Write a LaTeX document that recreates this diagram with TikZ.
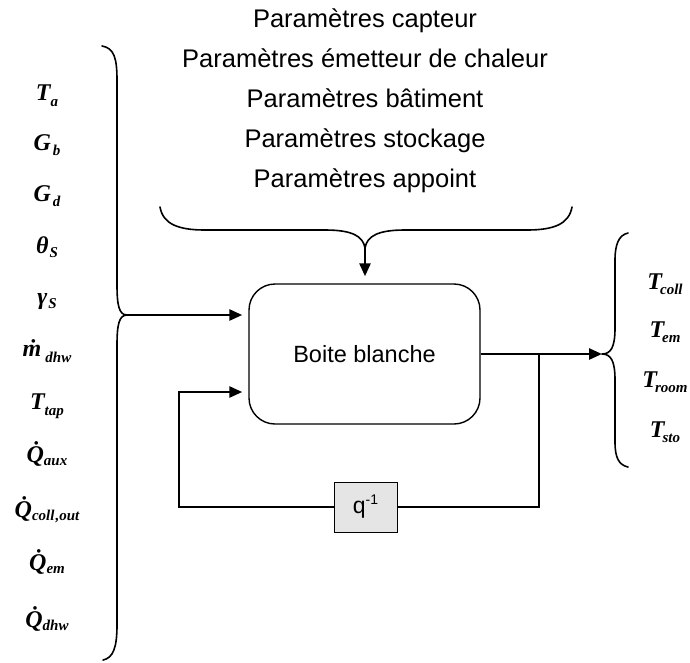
\documentclass[tikz,border=0pt]{standalone}
\usepackage{fontspec}
\setmainfont{Liberation Sans}
\newfontfamily\tnr{Liberation Serif}
\usetikzlibrary{arrows.meta}

% variable symbol: #1 = subscript drop, #2 = symbol, #3 = subscript
\newcommand\vsym[3][5pt]{{\tnr\bfseries\itshape\fontsize{24}{24}\selectfont
  #2\raisebox{-#1}{\fontsize{15}{15}\selectfont #3}}}

\begin{document}
\begin{tikzpicture}[x=1pt,y=-1pt,
  ptext/.style={font=\fontsize{25.5}{25.5}\selectfont, anchor=base, inner sep=0pt},
  vlab/.style={anchor=base, inner sep=0pt},
  brace/.style={line width=1.6pt, line cap=round, line join=round},
  flow/.style={line width=2.6pt, line join=miter},
  conn/.style={flow, -{Triangle[length=13pt,width=11pt]}},
  blackbox/.style={draw, line width=1.4pt, rounded corners=26pt,
    minimum width=231pt, minimum height=140pt, inner sep=0pt,
    font=\fontsize{23.5}{23.5}\selectfont},
  delay/.style={draw, line width=1pt, fill=black!10,
    minimum width=63pt, minimum height=50pt, inner sep=0pt,
    font=\fontsize{23}{23}\selectfont}]
\useasboundingbox (0,0) rectangle (690,662);

% parameter list
\node[ptext] (p1) at (365,27)  {Paramètres capteur};
\node[ptext] (p2) at (365,67)  {Paramètres émetteur de chaleur};
\node[ptext] (p3) at (365,107) {Paramètres bâtiment};
\node[ptext] (p4) at (365,147) {Paramètres stockage};
\node[ptext] (p5) at (365,187) {Paramètres appoint};

% input variables
\node[vlab] (ta)   at (47,100) {\vsym[6pt]{T}{a}};
\node[vlab] (gb)   at (47,150) {\vsym{G}{\kern2pt b}};
\node[vlab] (gd)   at (47,201) {\vsym{G}{\kern2pt d}};
\node[vlab] (ths)  at (47,253) {\vsym[4pt]{θ}{\kern1pt S}};
\node[vlab] (gas)  at (47,304) {\vsym[4pt]{γ}{\kern1pt S}};
\node[vlab] (mdhw) at (47,356) {\vsym[6pt]{ṁ}{\kern4pt dhw}};
\node[vlab] (ttap) at (47,409) {\vsym[6pt]{T}{tap}};
\node[vlab] (qaux) at (47,462) {\vsym[3pt]{Q̇}{aux}};
\node[vlab] (qco)  at (47,517) {\vsym[3pt]{Q̇}{coll\kern1pt,out}};
\node[vlab] (qem)  at (47,570) {\vsym[3pt]{Q̇}{em}};
\node[vlab] (qdhw) at (47,627) {\vsym[3pt]{Q̇}{dhw}};

% output variables
\node[vlab] (tcoll) at (665,289) {\vsym{T}{\kern-2pt coll}};
\node[vlab] (tem)   at (665,337) {\vsym{T}{\kern-2pt em}};
\node[vlab] (troom) at (665,387) {\vsym{T}{\kern-2pt room}};
\node[vlab] (tsto)  at (665,437) {\vsym{T}{\kern-2pt sto}};

% model and delay operator
\node[blackbox] (box) at (364.5,354) {Boite blanche};
\node[delay] (q) at (365.5,507) {q\raisebox{9pt}{\fontsize{14}{14}\selectfont -1}};

% brace tips and loop corners
\coordinate (inL)  at (127,315);
\coordinate (inT)  at (365,248);
\coordinate (outR) at (602,354);
\coordinate (j)    at (539,354);
\coordinate (lb)   at (179,507);
\coordinate (fb)   at (179,392);

% braces
\draw[brace] (102,46) .. controls (114,48) and (117,58) .. (117,80)
  -- (117,285) .. controls (117,305) and (119,315) .. (inL)
  .. controls (119,315) and (117,325) .. (117,345)
  -- (117,625) .. controls (117,648) and (113,658) .. (103,660);
\draw[brace] (160,207) .. controls (163,224) and (178,230) .. (205,230)
  -- (325,230) .. controls (352,230) and (363,236) .. (inT)
  .. controls (367,236) and (378,230) .. (405,230)
  -- (527,230) .. controls (554,230) and (569,224) .. (572,207);
\draw[brace] (628,233) .. controls (619,235) and (615,244) .. (615,260)
  -- (615,328) .. controls (615,347) and (611,354) .. (outR)
  .. controls (611,354) and (615,361) .. (615,380)
  -- (615,442) .. controls (615,458) and (619,465) .. (628,467);

% signal flow
\draw[conn, shorten >=6pt] (inL) -- (box.west |- inL);
\draw[conn, shorten >=7pt] (inT) -- (inT |- box.north);
\draw[conn] (box.east) -- (outR);
\draw[flow] (j) -- (j |- q.east) -- (q.east);
\draw[conn, shorten >=6pt] (q.west) -- (lb) -- (fb) -- (box.west |- fb);
\end{tikzpicture}
\end{document}
